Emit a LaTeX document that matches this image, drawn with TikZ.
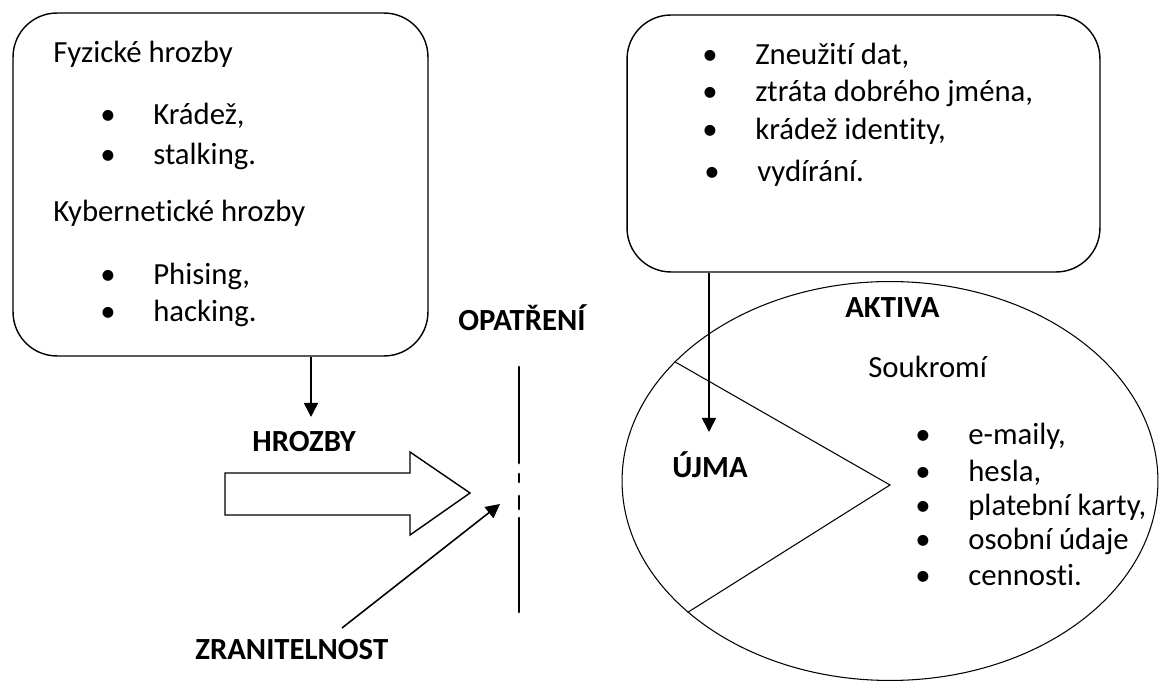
\documentclass[tikz,border=0pt]{standalone}
\usepackage{fontspec}
\setmainfont{Carlito}[Ligatures=NoCommon]
\usetikzlibrary{arrows.meta,shapes.geometric}
\newcommand{\itembul}{\makebox[0pt][r]{\textbullet\hspace{21.5pt}}}

\begin{document}
\begin{tikzpicture}[x=0.02cm,y=-0.02cm]
  \tikzstyle{every node}=[font=\fontsize{17.5}{21}\selectfont, inner sep=0pt]
  \tikzstyle{box}=[draw, rounded corners=25pt, line width=0.8pt]
  \tikzstyle{line}=[anchor=base west]
  \tikzstyle{head}=[font=\fontsize{17.5}{21}\selectfont\bfseries, anchor=base west]
  \tikzstyle{arr}=[line width=0.9pt, -{Triangle[length=8pt,width=8pt]}]
  \useasboundingbox (0,0) rectangle (1161,682);

  \node (fyz)[box, minimum width=8.3cm, minimum height=6.86cm] at (220.5,184.5) {};
  \node (fyzT)[line] at (53,63) {Fyzické hrozby};
  \node (kra)[line] at (153,125) {\itembul Krádež,};
  \node (sta)[line] at (153,165) {\itembul stalking.};
  \node (kybT)[line] at (53,222) {Kybernetické hrozby};
  \node (phi)[line] at (153,285) {\itembul Phising,};
  \node (hac)[line] at (153,322) {\itembul hacking.};

  \node (zne)[box, minimum width=9.46cm, minimum height=5.14cm] at (863.5,143.5) {};
  \node (zn1)[line] at (755,65) {\itembul Zneužití dat,};
  \node (zn2)[line] at (755,102) {\itembul ztráta dobrého jména,};
  \node (zn3)[line] at (755,140) {\itembul krádež identity,};
  \node (zn4)[line] at (757,182) {\itembul vydírání.};

  \node (aktiva)[draw, ellipse, line width=0.6pt, minimum width=10.72cm, minimum height=7.98cm] at (890,481) {};
  \coordinate (apex) at (890,485);
  \draw[line width=0.6pt] (aktiva.151.7) -- (apex) -- (aktiva.213.7);
  \node (aktT)[head] at (845,318) {AKTIVA};
  \node (souk)[line] at (868,378) {Soukromí};
  \node (em)[line] at (968,445) {\itembul e-maily,};
  \node (hes)[line] at (968,481) {\itembul hesla,};
  \node (pla)[line] at (968,516) {\itembul platební karty,};
  \node (oso)[line] at (968,550) {\itembul osobní údaje};
  \node (cen)[line] at (968,585) {\itembul cennosti.};
  \node (ujma)[head] at (672,478) {ÚJMA};

  \node (hrozby)[head] at (252,452) {HROZBY};
  \draw[line width=0.8pt] (225,473) -- (410,473) -- (410,452) -- (470,493)
    -- (410,535) -- (410,515) -- (225,515) -- cycle;

  \node (opat)[head] at (458,331) {OPATŘENÍ};
  \draw[line width=1.6pt, line cap=round] (519,367) -- (519,463)
    (519,474) -- (519,482) (519,496) -- (519,509) (519,518) -- (519,612);

  \node (zran)[head] at (195,660) {ZRANITELNOST};
  \coordinate (z0) at (342,628);
  \coordinate (z1) at (500,504);
  \draw[arr] (z0) -- (z1);

  \coordinate (t1) at (311,417);
  \draw[arr] (fyz.south -| t1) -- (t1);
  \coordinate (t2) at (709,432);
  \draw[arr] (zne.south -| t2) -- (t2);
\end{tikzpicture}
\end{document}
